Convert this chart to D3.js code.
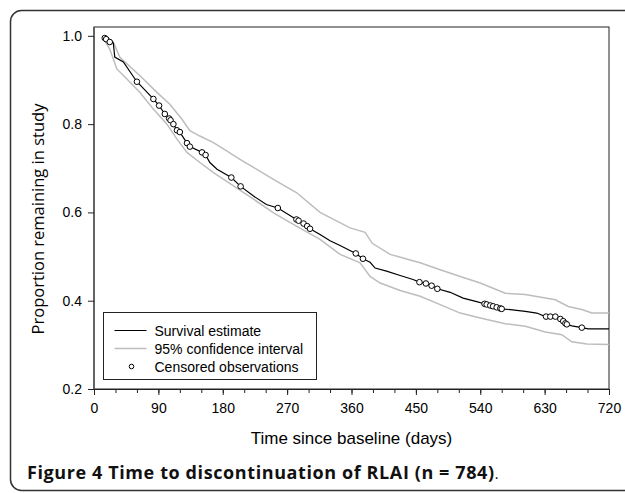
<!DOCTYPE html>
<html>
<head>
<meta charset="utf-8">
<script src="https://cdn.jsdelivr.net/npm/d3@7"></script>
<style>
  body { margin: 0; background: #fff; }
  svg { display: block; }
</style>
</head>
<body>
<svg id="chart" width="625" height="493"></svg>
<script>
// Kaplan-Meier estimate (days, proportion)
var survDays = [15, 22, 27, 29, 41, 60, 83, 91, 99, 106, 111, 116, 120, 130, 134, 151, 156, 162, 172, 192, 205,
                223, 241, 257, 283, 296, 302, 316, 330, 344, 366, 376, 386, 393, 409, 428, 446, 455, 464, 472, 480,
                498, 516, 535, 548, 563, 571, 582, 603, 619, 631, 645, 654, 660, 668, 682, 691, 720];
var survVals = [0.995, 0.986, 0.984, 0.952, 0.941, 0.896, 0.857, 0.842, 0.823, 0.811, 0.800, 0.786, 0.782, 0.757, 0.749, 0.736, 0.730, 0.713, 0.698, 0.679, 0.659,
                0.637, 0.618, 0.610, 0.584, 0.572, 0.563, 0.550, 0.536, 0.525, 0.507, 0.495, 0.487, 0.474, 0.467, 0.457, 0.448, 0.442, 0.439, 0.434, 0.427,
                0.419, 0.406, 0.398, 0.392, 0.385, 0.381, 0.380, 0.376, 0.372, 0.364, 0.364, 0.357, 0.347, 0.343, 0.339, 0.336, 0.336];

var upperDays = [15, 27, 36, 43, 64, 88, 106, 123, 134, 148, 167, 186, 204, 227, 255, 283, 316, 358, 379, 389,
                 414, 442, 456, 484, 512, 540, 575, 603, 645, 663, 682, 696, 720];
var upperVals = [1.0, 0.986, 0.952, 0.941, 0.910, 0.872, 0.845, 0.811, 0.785, 0.773, 0.758, 0.739, 0.720, 0.698, 0.671, 0.645, 0.600, 0.565, 0.555, 0.530,
                 0.505, 0.492, 0.486, 0.470, 0.455, 0.440, 0.417, 0.414, 0.402, 0.387, 0.380, 0.372, 0.372];

var lowerDays = [15, 22, 32, 46, 64, 83, 102, 116, 130, 148, 167, 195, 223, 251, 283, 316, 344, 372, 386, 400,
                 428, 456, 484, 512, 540, 575, 603, 631, 654, 668, 689, 720];
var lowerVals = [0.989, 0.970, 0.925, 0.902, 0.872, 0.834, 0.800, 0.766, 0.736, 0.713, 0.690, 0.660, 0.630, 0.599, 0.569, 0.539, 0.505, 0.486, 0.455, 0.440,
                 0.423, 0.410, 0.391, 0.372, 0.361, 0.348, 0.342, 0.329, 0.323, 0.307, 0.302, 0.301];

// times of censored observations (days)
var censoredDays = [15, 17, 22, 60, 83, 91, 99, 105, 107, 111, 116, 120, 130, 134, 151, 156, 192, 205, 257, 283,
                    286, 293, 298, 302, 366, 376, 455, 464, 472, 480, 546, 549, 554, 558, 563, 568, 570,
                    632, 638, 645, 652, 656, 659, 661, 682];

var xTicks = [0, 90, 180, 270, 360, 450, 540, 630, 720];
var yTicks = [0.2, 0.4, 0.6, 0.8, 1.0];

var legendLabels = ['Survival estimate', '95% confidence interval', 'Censored observations'];

var margin = {top: 27, right: 16, bottom: 104, left: 94}
    ,width  = 625 - margin.left - margin.right
    ,height = 493 - margin.top - margin.bottom;

var svg = d3.select('#chart');

// rounded panel border (runs off the right edge like the original)
svg.append('rect')
   .attr('x', 10.5).attr('y', 10.5)
   .attr('width', 640).attr('height', 480)
   .attr('rx', 11)
   .attr('fill', 'none')
   .attr('stroke', '#333')
   .attr('stroke-width', 1.5);

var g = svg.append('g')
           .attr('transform', 'translate(' + margin.left + ',' + margin.top + ')');

var x = d3.scaleLinear().domain([0, 720]).range([0, width]);
var y = d3.scaleLinear().domain([0.2, 1.02]).range([height, 0]);

function pairs(days, vals) {
  return days.map(function(d, i) { return [d, vals[i]]; });
}

var line = d3.line()
             .x(function(d) { return x(d[0]); })
             .y(function(d) { return y(d[1]); });

// frame
g.append('rect')
 .attr('x', 0).attr('y', 0)
 .attr('width', width).attr('height', height)
 .attr('fill', 'none')
 .attr('stroke', '#222')
 .attr('stroke-width', 1);

// confidence bands
[pairs(upperDays, upperVals), pairs(lowerDays, lowerVals)].forEach(function(p) {
  g.append('path')
   .datum(p)
   .attr('fill', 'none')
   .attr('stroke', '#bdbdbd')
   .attr('stroke-width', 1.5)
   .attr('d', line);
});

var surv = pairs(survDays, survVals);
g.append('path')
 .datum(surv)
 .attr('fill', 'none')
 .attr('stroke', '#000')
 .attr('stroke-width', 1.2)
 .attr('d', line);

// censored marks sit on the survival line
var survAt = d3.scaleLinear().domain(survDays).range(survVals);

g.selectAll('circle.cens')
 .data(censoredDays).enter()
   .append('circle')
   .attr('class', 'cens')
   .attr('cx', function(d) { return x(d); })
   .attr('cy', function(d) { return y(survAt(d)); })
   .attr('r', 2.8)
   .attr('fill', '#fff')
   .attr('stroke', '#000')
   .attr('stroke-width', 1);

// axes
var xMinor = g.append('g')
              .attr('transform', 'translate(0,' + height + ')')
              .call(d3.axisBottom(x).tickValues(d3.range(0, 721, 30)).tickSize(4).tickFormat(''));
xMinor.select('.domain').remove();

var xAxis = g.append('g')
             .attr('transform', 'translate(0,' + height + ')')
             .call(d3.axisBottom(x).tickValues(xTicks).tickSize(6).tickPadding(8).tickFormat(d3.format('d')));

var yAxis = g.append('g')
             .call(d3.axisLeft(y).tickValues(yTicks).tickSize(6).tickPadding(6).tickFormat(d3.format('.1f')));
yAxis.select('.domain').attr('d', 'M0,' + y(0.2) + 'V0').attr('stroke', '#555').attr('stroke-width', 1.5);

svg.selectAll('.tick text')
   .style('font-family', 'Liberation Sans, Arial, sans-serif')
   .style('font-size', '14px')
   .attr('fill', '#000');
svg.selectAll('.tick line').attr('stroke', '#222');
xAxis.select('.domain').attr('stroke', '#222');

// axis titles
svg.append('text')
   .attr('x', margin.left + width / 2)
   .attr('y', 444)
   .attr('text-anchor', 'middle')
   .style('font-family', 'Liberation Sans, Arial, sans-serif')
   .style('font-size', '17px')
   .text('Time since baseline (days)');

svg.append('text')
   .attr('transform', 'translate(44,219) rotate(-90)')
   .attr('text-anchor', 'middle')
   .style('font-family', 'Open Sans, sans-serif')
   .style('font-size', '16.5px')
   .text('Proportion remaining in study');

// legend
var legend = g.append('g')
              .attr('transform', 'translate(' + (103.5 - margin.left) + ',' + (312.5 - margin.top) + ')');

legend.append('rect')
      .attr('width', 213).attr('height', 67)
      .attr('fill', '#fff')
      .attr('stroke', '#222')
      .attr('stroke-width', 1);

var items = legend.selectAll('g.item')
                  .data(legendLabels).enter()
                    .append('g')
                    .attr('class', 'item')
                    .attr('transform', function(d, i) { return 'translate(0,' + (18 + i * 18) + ')'; });

items.each(function(d, i) {
  var it = d3.select(this);
  if (i < 2) {
    it.append('line')
      .attr('x1', 11).attr('x2', 43)
      .attr('stroke', i === 0 ? '#000' : '#bdbdbd')
      .attr('stroke-width', i === 0 ? 1.2 : 1.5);
  } else {
    it.append('circle')
      .attr('cx', 28).attr('r', 2.3)
      .attr('fill', '#fff').attr('stroke', '#000');
  }
  it.append('text')
    .attr('x', 51).attr('y', 5)
    .style('font-family', 'Liberation Sans, Arial, sans-serif')
    .style('font-size', '14px')
    .text(d);
});

// caption
var cap = svg.append('text')
             .attr('x', 27).attr('y', 479)
             .style('font-family', 'Open Sans, sans-serif')
             .style('font-size', '18px')
             .style('letter-spacing', '0.6px');
cap.append('tspan').style('font-weight', 'bold').attr('fill', '#111')
   .text('Figure 4 Time to discontinuation of RLAI (n = 784)');
cap.append('tspan').style('font-size', '14px').text('.');
</script>
</body>
</html>
